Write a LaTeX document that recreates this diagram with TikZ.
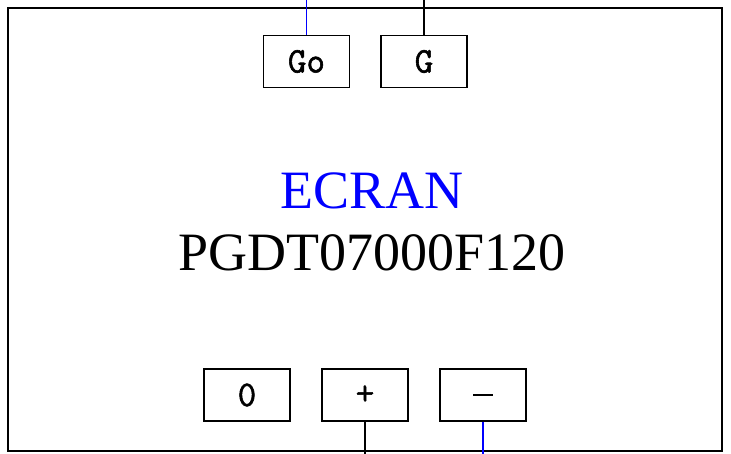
\documentclass[tikz,border=0pt]{standalone}
\usepackage{fontspec}
\setmainfont{Liberation Serif}
\newfontfamily\boxfont[FakeBold=1.6]{Latin Modern Mono}
\begin{document}
\begin{tikzpicture}[x=1pt,y=-1pt,
  keybox/.style={draw,line width=1.2pt,minimum width=86pt,minimum height=52pt,inner sep=0pt,font=\boxfont\fontsize{36}{36}\selectfont},
  wire/.style={line width=1.2pt}]
\useasboundingbox (0,0) rectangle (731,454);
\draw[line width=1.2pt] (8,8) rectangle (722,451);
\node[keybox] (go) at (306.5,61.5) {Go};
\node[keybox] (g) at (424,61.5) {G};
\node[keybox] (zero) at (247,395) {0};
\node[keybox] (plus) at (365,395) {+};
\node[keybox] (minus) at (483,395) {\rule{20pt}{2pt}};
\coordinate (got) at (306.5,0);
\coordinate (gt) at (424,0);
\coordinate (pb) at (365,454);
\coordinate (mb) at (483,454);
\draw[wire,blue] (go.north) -- (got);
\draw[wire] (g.north) -- (gt);
\draw[wire] (plus.south) -- (pb);
\draw[wire,blue] (minus.south) -- (mb);
\node[font=\fontsize{54}{54}\selectfont,text=blue] (ecran) at (372,191) {ECRAN};
\node[font=\fontsize{54}{54}\selectfont] (ref) at (372,253) {PGDT07000F120};
\end{tikzpicture}
\end{document}
